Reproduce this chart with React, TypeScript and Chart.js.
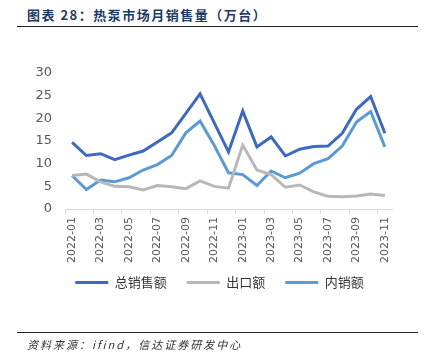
import React, { useEffect, useRef } from "react";
import { Chart, registerables } from "chart.js";

Chart.register(...registerables);

const months = [
  "2022-01", "2022-02", "2022-03", "2022-04", "2022-05", "2022-06", "2022-07", "2022-08",
  "2022-09", "2022-10", "2022-11", "2022-12", "2023-01", "2023-02", "2023-03", "2023-04",
  "2023-05", "2023-06", "2023-07", "2023-08", "2023-09", "2023-10", "2023-11",
];
const totalSales = [14.7, 11.8, 12.2, 10.9, 11.9, 12.8, 14.8, 16.8, 21.1, 25.4, 19.0, 12.6, 21.6, 13.7, 15.9, 11.7, 13.2, 13.8, 13.9, 16.7, 22.0, 24.8, 16.7];
const exportSales = [7.4, 7.7, 6.0, 5.0, 4.9, 4.2, 5.2, 4.9, 4.5, 6.2, 5.0, 4.6, 14.1, 8.6, 7.6, 4.8, 5.3, 3.8, 2.8, 2.7, 2.9, 3.3, 3.0];
const domesticSales = [7.4, 4.3, 6.4, 6.0, 6.9, 8.6, 9.8, 11.8, 16.8, 19.4, 14.0, 8.0, 7.6, 5.2, 8.4, 6.9, 7.9, 10.0, 11.1, 13.9, 19.2, 21.5, 13.7];
const seriesNames = ["总销售额", "出口额", "内销额"];
const yTicks = [0, 5, 10, 15, 20, 25, 30];

const titleText = "图表 28：热泵市场月销售量（万台）";
const sourceText = "资料来源：ifind，信达证券研发中心";

const legendPlacer = {
  id: "legendPlacer",
  beforeDraw(chart: any) {
    const lg = chart.legend;
    if (!lg) return;
    lg.left = 47;
    lg.right = 392;
    lg.top = 256;
  },
};

export default function App() {
  const ref = useRef<HTMLCanvasElement | null>(null);

  useEffect(() => {
    document.body.style.margin = "0";
    const canvas = ref.current;
    if (!canvas) return;
    const chart = new Chart(canvas, {
      type: "line",
      data: {
        labels: months,
        datasets: [
          { label: seriesNames[0], data: totalSales, borderColor: "#3F69BF", backgroundColor: "#3F69BF", borderWidth: 3, pointRadius: 0, tension: 0 },
          { label: seriesNames[1], data: exportSales, borderColor: "#B8B8B8", backgroundColor: "#B8B8B8", borderWidth: 3, pointRadius: 0, tension: 0 },
          { label: seriesNames[2], data: domesticSales, borderColor: "#5B9BD5", backgroundColor: "#5B9BD5", borderWidth: 3, pointRadius: 0, tension: 0 },
        ],
      },
      plugins: [legendPlacer],
      options: {
        animation: false,
        responsive: false,
        maintainAspectRatio: false,
        layout: { padding: { top: 73, left: 0, right: 34, bottom: 55 } },
        plugins: {
          tooltip: { enabled: false },
          legend: {
            position: "bottom",
            labels: {
              boxWidth: 33,
              boxHeight: 3,
              padding: 20,
              color: "#333333",
              font: { family: "'Noto Sans CJK SC', sans-serif", size: 13 },
              generateLabels: (c: any) =>
                c.data.datasets.map((d: any, i: number) => ({
                  text: d.label,
                  fillStyle: d.borderColor,
                  strokeStyle: d.borderColor,
                  lineWidth: 0,
                  hidden: false,
                  datasetIndex: i,
                  fontColor: "#333333",
                })),
            },
          },
        },
        scales: {
          x: {
            offset: true,
            grid: {
              offset: true,
              drawOnChartArea: false,
              drawTicks: true,
              tickLength: 5,
              color: (ctx: any) => (ctx.index % 2 === 0 ? "#D9D9D9" : "rgba(0,0,0,0)"),
            },
            border: { display: true, color: "#D9D9D9", width: 1 },
            ticks: {
              autoSkip: false,
              maxRotation: 90,
              minRotation: 90,
              padding: 3,
              color: "#595959",
              font: { family: "'DejaVu Sans', sans-serif", size: 11 },
              callback: (_v: any, i: number) => (i % 2 === 0 ? months[i] : ""),
            },
          },
          y: {
            min: 0,
            max: 30,
            afterFit: (axis: any) => {
              axis.width = 65;
            },
            afterBuildTicks: (axis: any) => {
              axis.ticks = yTicks.map((v) => ({ value: v }));
            },
            grid: { display: false, drawTicks: false },
            border: { display: false },
            ticks: {
              padding: 13,
              color: "#595959",
              font: { family: "'DejaVu Sans', sans-serif", size: 13 },
            },
          },
        },
      },
    });
    return () => chart.destroy();
  }, []);

  return (
    <div style={{ position: "relative", width: 426, height: 364, background: "#fff", overflow: "hidden" }}>
      <div
        style={{
          position: "absolute",
          left: 27,
          top: 6,
          fontFamily: "'Noto Sans CJK SC', sans-serif",
          fontWeight: 700,
          fontSize: 13,
          letterSpacing: 1.5,
          color: "#1F3A63",
          whiteSpace: "nowrap",
          lineHeight: "18px",
        }}
      >
        {titleText}
      </div>
      <div style={{ position: "absolute", left: 17, top: 26, width: 401, height: 1, background: "#222" }} />
      <canvas ref={ref} width={426} height={364} style={{ position: "absolute", left: 0, top: 0, width: 426, height: 364 }} />
      <div style={{ position: "absolute", left: 17, top: 332, width: 401, height: 1, background: "#222" }} />
      <div
        style={{
          position: "absolute",
          left: 27,
          top: 336,
          fontFamily: "'Noto Sans CJK SC', sans-serif",
          fontStyle: "italic",
          fontSize: 11,
          letterSpacing: 2,
          color: "#333",
          whiteSpace: "nowrap",
          lineHeight: "16px",
        }}
      >
        {sourceText}
      </div>
    </div>
  );
}
